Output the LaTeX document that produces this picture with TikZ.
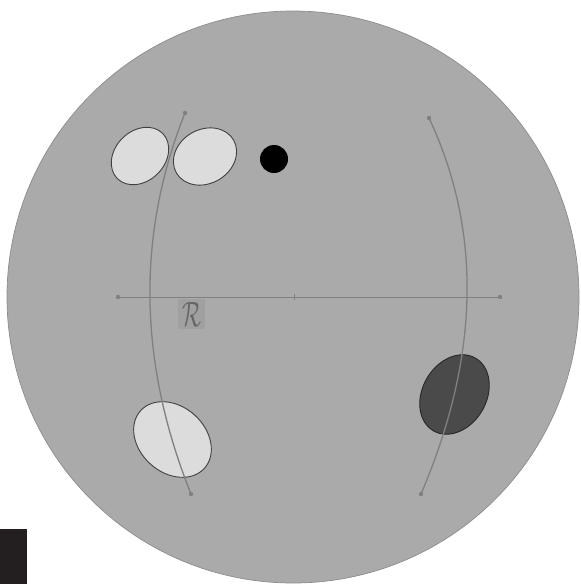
\documentclass[tikz,border=0pt]{standalone}
\usepackage{amsmath,amssymb}
\definecolor{discgray}{RGB}{170,170,170}
\definecolor{blobgray}{RGB}{220,220,220}
\definecolor{darkblob}{RGB}{74,74,74}
\definecolor{guidegray}{RGB}{128,128,128}
\definecolor{labelgray}{RGB}{160,160,160}
\definecolor{markblack}{RGB}{35,31,32}
\begin{document}
\begin{tikzpicture}[x=1pt,y=-1pt,
    lightblob/.style={fill=blobgray,draw=black!75,line width=0.9pt},
    guide/.style={draw=guidegray,line width=1.3pt},
    enddot/.style={fill=guidegray}]
    \useasboundingbox (0,0) rectangle (581,584);
    % disc
    \fill[discgray,draw=black!45,line width=0.7pt] (293,297) circle (286);
    \fill[markblack] (0,529) rectangle (27,584);
    % blobs
    \draw[lightblob,rotate around={45:(140,156)}] (140,156) ellipse (32 and 25);
    \draw[lightblob,rotate around={30:(205,156.5)}] (205,156.5) ellipse (33 and 27);
    \draw[lightblob,rotate around={-42:(172.5,439.5)}] (172.5,439.5) ellipse (43 and 33);
    \draw[fill=darkblob,draw=black!85,line width=0.9pt,rotate around={60:(454.5,394.5)}]
      (454.5,394.5) ellipse (42 and 32);
    \fill[black] (274,159) circle (14);
    % guide lines
    \coordinate (lt) at (185,113);
    \coordinate (lb) at (191,494);
    \coordinate (rt) at (429,118);
    \coordinate (rb) at (421,494);
    \coordinate (hl) at (118,297);
    \coordinate (hr) at (500,297);
    \coordinate (hc) at (294,297);
    \draw[guide] (lt) .. controls (136.3,235.3) and (138.3,362.3) .. (lb);
    \draw[guide] (rt) .. controls (482.3,231.3) and (479.7,356.7) .. (rb);
    \draw[guide,line width=1pt] (hl) -- (hr);
    \draw[guide,line width=0.6pt] ([yshift=-3]hc) -- ([yshift=3]hc);
    \foreach \p in {lt,lb,rt,rb,hl,hr}
      \fill[enddot] (\p) circle (2.2);
    % label
    \node[fill=labelgray,inner sep=0pt,minimum width=27,minimum height=30,
      text=black!60] (rlabel) at (191.5,314)
      {\resizebox{19pt}{24pt}{$\mathcal{R}$}};
\end{tikzpicture}
\end{document}
